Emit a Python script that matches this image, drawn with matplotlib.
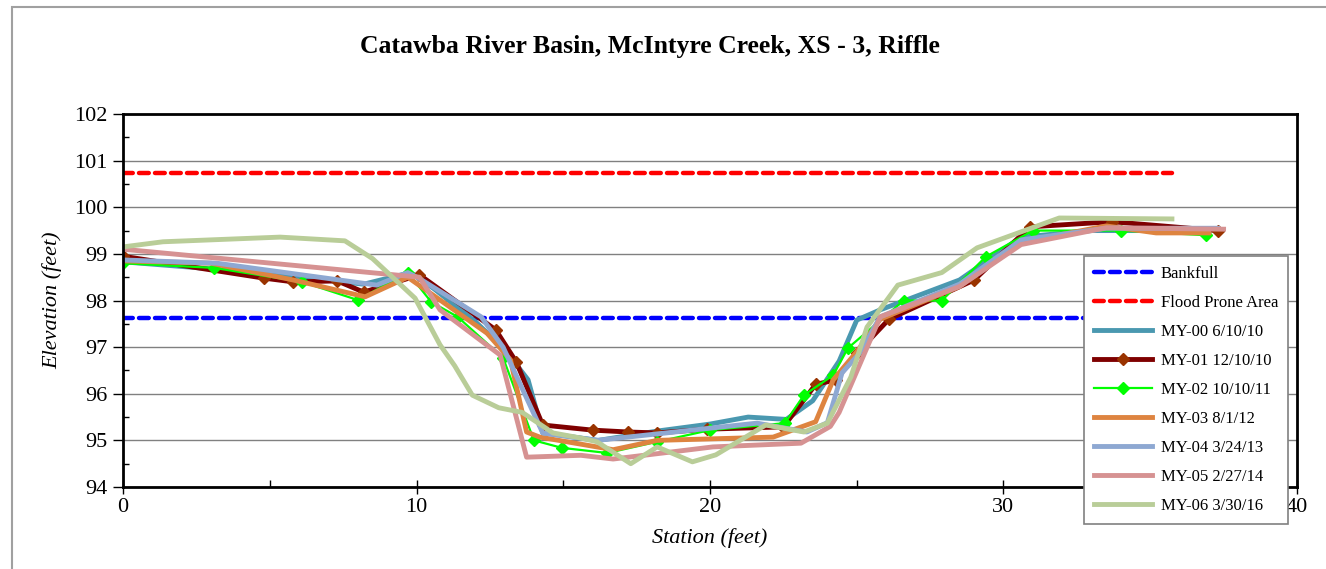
import numpy as np
import matplotlib.pyplot as plt
from matplotlib.patches import Rectangle

# survey cross sections: station (ft), elevation (ft)
my00_x = [0, 3, 6, 8.2, 9.8, 10.6, 12.0, 13.0, 13.8, 14.3, 16.2, 18.2, 20.0, 21.3, 22.6, 23.5, 24.4, 25.0, 25.8, 28.5, 30.6, 33.0, 35.0, 37.0]
my00_y = [98.83, 98.68, 98.5, 98.35, 98.6, 98.25, 97.55, 96.95, 96.3, 95.16, 95.0, 95.2, 95.35, 95.5, 95.45, 95.85, 96.7, 97.58, 97.8, 98.44, 99.36, 99.5, 99.5, 99.5]

my01_x = [0, 4.8, 5.8, 7.3, 8.2, 10.1, 12.7, 13.4, 14.3, 16.0, 17.2, 18.2, 19.9, 22.5, 23.6, 24.3, 25.0, 26.1, 29.0, 30.9, 33.7, 37.3]
my01_y = [98.95, 98.48, 98.4, 98.42, 98.18, 98.55, 97.37, 96.68, 95.33, 95.22, 95.18, 95.16, 95.24, 95.29, 96.2, 96.3, 96.87, 97.6, 98.44, 99.58, 99.69, 99.5]

my02_x = [0, 3.1, 6.1, 8.0, 9.7, 10.5, 11.4, 12.95, 14.0, 14.95, 16.5, 18.2, 20.0, 22.55, 23.2, 24.2, 24.7, 26.6, 27.9, 29.4, 31.0, 34.0, 36.9]
my02_y = [98.8, 98.7, 98.4, 98.01, 98.6, 97.97, 97.65, 96.77, 95.0, 94.84, 94.73, 94.97, 95.22, 95.37, 95.97, 96.4, 96.98, 98.0, 98.0, 98.94, 99.5, 99.5, 99.4]

my03_x = [0, 3.0, 5.8, 8.25, 9.7, 12.4, 13.2, 13.75, 14.2, 16.7, 18.2, 22.15, 23.6, 24.2, 25.0, 25.8, 28.5, 30.6, 33.5, 35.2, 37.0]
my03_y = [98.85, 98.8, 98.44, 98.08, 98.5, 97.3, 96.73, 95.18, 95.07, 94.8, 95.0, 95.07, 95.4, 96.3, 96.9, 97.6, 98.3, 99.25, 99.6, 99.45, 99.45]

my04_x = [0, 3.2, 8.65, 9.7, 10.1, 12.2, 12.95, 14.3, 16.15, 21.6, 23.3, 24.0, 24.5, 25.1, 25.8, 28.5, 30.6, 33.5, 37.3]
my04_y = [98.87, 98.8, 98.33, 98.6, 98.47, 97.65, 97.0, 95.16, 95.0, 95.37, 95.18, 95.38, 96.45, 96.87, 97.65, 98.35, 99.3, 99.55, 99.55]

my05_x = [0, 10.1, 10.8, 12.85, 13.75, 15.6, 16.7, 20.1, 23.1, 24.1, 24.4, 25.8, 28.5, 30.6, 33.5, 37.5]
my05_y = [99.1, 98.5, 97.8, 96.83, 94.64, 94.68, 94.6, 94.86, 94.94, 95.3, 95.6, 97.65, 98.3, 99.2, 99.56, 99.53]

my06_x = [0, 1.36, 5.35, 7.56, 8.5, 9.95, 10.8, 11.3, 11.9, 12.8, 13.6, 14.65, 15.6, 16.15, 17.3, 18.2, 19.4, 20.2, 21.9, 23.2, 24.0, 24.8, 25.35, 26.4, 27.9, 29.1, 31.9, 35.74]
my06_y = [99.15, 99.26, 99.36, 99.28, 98.9, 98.05, 97.05, 96.6, 95.97, 95.7, 95.6, 95.16, 95.05, 94.97, 94.5, 94.86, 94.54, 94.69, 95.33, 95.18, 95.37, 96.36, 97.43, 98.33, 98.6, 99.13, 99.77, 99.75]

bankfull = 97.63
flood_prone = 100.73
ref_x = [0, 35.74]

plt.rcParams['font.family'] = ['Liberation Serif', 'DejaVu Serif']

fig = plt.figure(figsize=(13.26, 5.69), dpi=100)
ax = fig.add_axes([0.0928, 0.1441, 0.8853, 0.6555])

fig.patches.append(Rectangle((12/1326, -0.1), 1.2, 1 - 7/569 + 0.1, transform=fig.transFigure,
                             fill=False, edgecolor='#a0a0a0', linewidth=1.5, zorder=-1))

ax.plot(ref_x, [bankfull]*2, color='#0000ff', lw=3.2, ls=(0, (2.2, 1.4)), dash_capstyle='round', label='Bankfull')
ax.plot(ref_x, [flood_prone]*2, color='#ff0000', lw=3.2, ls=(0, (2.2, 1.4)), dash_capstyle='round', label='Flood Prone Area')

ax.plot(my00_x, my00_y, color='#4a98b0', lw=3.5, label='MY-00 6/10/10')
ax.plot(my01_x, my01_y, color='#7f0000', lw=3.5, marker='D', ms=6, mfc='#993300', mec='#993300', label='MY-01 12/10/10')
ax.plot(my02_x, my02_y, color='#00ff00', lw=1.6, marker='D', ms=6, mfc='#00ff00', mec='#00ff00', label='MY-02 10/10/11')
ax.plot(my03_x, my03_y, color='#de8440', lw=3.5, label='MY-03 8/1/12')
ax.plot(my04_x, my04_y, color='#8ea8d2', lw=3.5, label='MY-04 3/24/13')
ax.plot(my05_x, my05_y, color='#d69292', lw=3.5, label='MY-05 2/27/14')
ax.plot(my06_x, my06_y, color='#b9cd98', lw=3.5, label='MY-06 3/30/16')

ax.set_xlim(0, 40)
ax.set_ylim(94, 102)
ax.set_xticks([0, 10, 20, 30, 40])
ax.set_xticks([5, 15, 25, 35], minor=True)
ax.set_yticks(np.arange(94, 103, 1))
ax.set_yticks(np.arange(94.5, 102, 1), minor=True)
ax.tick_params(axis='x', which='major', direction='inout', length=10, width=1, labelsize=16, pad=3)
ax.tick_params(axis='x', which='minor', direction='in', length=5, width=1)
ax.tick_params(axis='y', which='major', direction='out', length=7, width=1, labelsize=16, pad=4)
ax.tick_params(axis='y', which='minor', direction='in', length=4, width=1)
ax.grid(axis='y', which='major', color='#808080', lw=1)
ax.set_axisbelow(True)
for s in ax.spines.values():
    s.set_linewidth(2)
    s.set_color('black')

ax.set_xlabel('Station (feet)', fontsize=16, style='italic', labelpad=8)
ax.set_ylabel('Elevation (feet)', fontsize=16, style='italic', labelpad=9)
fig.text(650/1326, 1 - 47/569, 'Catawba River Basin, McIntyre Creek, XS - 3, Riffle',
         ha='center', va='center', fontsize=18.5, fontweight='bold')

leg = ax.legend(loc='upper left', bbox_to_anchor=(1084/1326, 1 - 256/569), bbox_transform=fig.transFigure,
                fontsize=12, frameon=True, fancybox=False, edgecolor='#808080', framealpha=1,
                handlelength=3.5, labelspacing=0.78, borderaxespad=0, borderpad=0.6, handletextpad=0.5)
leg.get_frame().set_linewidth(1.2)

fig.savefig('out.png', dpi=100)
